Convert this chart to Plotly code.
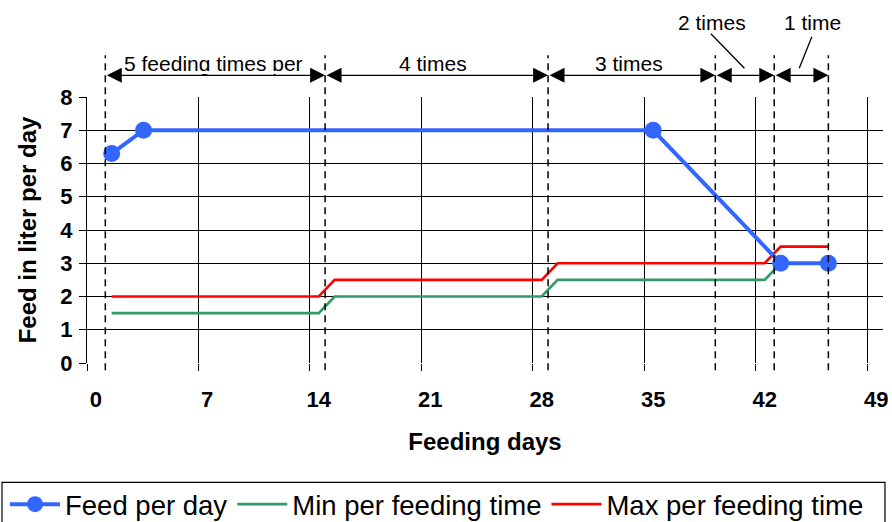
import plotly.graph_objects as go

# ---- data ----
feed_days = [1, 3, 35, 43, 46]
feed_liters = [6.3, 7, 7, 3, 3]

range_days = [1, 14, 15, 28, 29, 42, 43, 46]
min_liters = [1.5, 1.5, 2, 2, 2.5, 2.5, 3, 3]
max_liters = [2, 2, 2.5, 2.5, 3, 3, 3.5, 3.5]

x_ticks = [0, 7, 14, 21, 28, 35, 42, 49]
y_ticks = [0, 1, 2, 3, 4, 5, 6, 7, 8]

phase_bounds = [0.6, 14.4, 28.4, 38.9, 42.6, 46.0]
phase_labels = ["5 feeding times per", "4 times", "3 times", "2 times", "1 time"]
phase_label_x = [7.4, 21.2, 33.5, 38.7, 45.0]
phase_label_y = [1.1267, 1.1267, 1.1267, 1.2808, 1.2808]   # paper units
arrow_y = 1.0815                                             # paper units
leader_tail_x = [None, None, None, 38.53, 45.0]
leader_tail_dy = [None, None, None, -36, -33]                # pixels
leader_head_x = [None, None, None, 40.73, 44.17]
leader_head_y = 1.108                                        # paper units

FONT = "Liberation Sans, Arial, sans-serif"
BLUE = "#3366FF"
GREEN = "#339966"
RED = "#FF0000"

fig = go.Figure()
fig.add_trace(go.Scatter(x=range_days, y=min_liters, mode="lines", name="Min per feeding time",
                         line=dict(color=GREEN, width=2.6), legendrank=2))
fig.add_trace(go.Scatter(x=range_days, y=max_liters, mode="lines", name="Max per feeding time",
                         line=dict(color=RED, width=2.6), legendrank=3))
fig.add_trace(go.Scatter(x=feed_days, y=feed_liters, mode="lines+markers", name="Feed per day",
                         line=dict(color=BLUE, width=4), marker=dict(color=BLUE, size=17),
                         legendrank=1))
# invisible trace on overlay axis to carry the offset gridlines
fig.add_trace(go.Scatter(x=[0], y=[0], xaxis="x2", mode="markers", marker=dict(opacity=0),
                         showlegend=False, hoverinfo="skip"))

shift = 0.55
x0, x1 = 0.0, 49.98
fig.update_layout(
    width=892, height=522,
    margin=dict(l=87, r=9, t=97, b=159, autoexpand=False),
    paper_bgcolor="white", plot_bgcolor="white",
    font=dict(family=FONT, color="black"),
    xaxis=dict(range=[x0 - shift, x1 - shift], tickvals=x_ticks, showgrid=False, zeroline=False,
               showline=False, ticks="", tickfont=dict(size=22, family=FONT, weight="bold"),
               ticklabelstandoff=21, automargin=False,
               title=dict(text="<b>Feeding days</b>", font=dict(size=24), standoff=22)),
    xaxis2=dict(range=[x0, x1], overlaying="x", side="bottom", tickvals=x_ticks,
                showticklabels=False, showgrid=True, gridcolor="black", gridwidth=1.2,
                zeroline=False, showline=False, ticks="outside", ticklen=7, tickcolor="black",
                tickwidth=1.2),
    yaxis=dict(range=[0, 8], tickvals=y_ticks, showgrid=True, gridcolor="black", gridwidth=1.2,
               zeroline=False, showline=True, linecolor="black", linewidth=1.2,
               ticks="outside", ticklen=7, tickcolor="black", tickwidth=1.2,
               tickfont=dict(size=22, family=FONT, weight="bold"), ticklabelstandoff=2,
               automargin=False,
               title=dict(text="<b>Feed in liter per day</b>", font=dict(size=24), standoff=16)),
    legend=dict(orientation="h", x=-0.103, y=-0.439, xanchor="left", yanchor="top",
                borderwidth=0, font=dict(size=27.5, family=FONT),
                itemwidth=50, traceorder="normal", bgcolor="rgba(0,0,0,0)"),
    showlegend=True,
)

# legend frame (as in the original, runs off the bottom edge)
fig.add_shape(type="rect", xref="paper", yref="paper", x0=-0.1068, x1=1.0025, y0=-0.70, y1=-0.4485,
              line=dict(color="black", width=1.2), fillcolor="rgba(0,0,0,0)", layer="above")

# dashed phase boundaries
for b in phase_bounds:
    fig.add_shape(type="line", xref="x", yref="paper", x0=b, x1=b, y0=-0.027, y1=1.157,
                  line=dict(color="black", width=1.5, dash="7px,5px"), layer="above")

# double-headed arrows between boundaries
for a, b in zip(phase_bounds[:-1], phase_bounds[1:]):
    fig.add_annotation(x=b, y=arrow_y, ax=a, ay=0, xref="x", yref="paper", axref="x", ayref="pixel",
                       text="", showarrow=True, arrowhead=2, startarrowhead=2, arrowside="end+start",
                       arrowsize=2.3, startarrowsize=2.3, arrowwidth=1.3, arrowcolor="black",
                       standoff=0, startstandoff=0)

# phase labels
for txt, lx, ly in zip(phase_labels, phase_label_x, phase_label_y):
    fig.add_annotation(x=lx, y=ly, xref="x", yref="paper", text=txt, showarrow=False,
                       font=dict(size=21, family=FONT, color="black"), yanchor="middle")

# the first label is clipped at its baseline in the original
fig.add_annotation(x=7.43, y=1.0853, xref="x", yref="paper", text=" ", showarrow=False,
                   font=dict(size=1), width=185, height=3.4, bgcolor="white", borderpad=0,
                   borderwidth=0, yanchor="bottom")

# leader lines
for tx, tdy, hx in zip(leader_tail_x, leader_tail_dy, leader_head_x):
    if tx is None:
        continue
    fig.add_annotation(x=hx, y=leader_head_y, ax=tx, ay=tdy, xref="x", yref="paper",
                       axref="x", ayref="pixel", text="", showarrow=True, arrowhead=0,
                       arrowwidth=1.3, arrowcolor="black", standoff=0)

fig.write_html("out.html", config={"displayModeBar": False},
               post_script="document.body.style.margin='0';")
